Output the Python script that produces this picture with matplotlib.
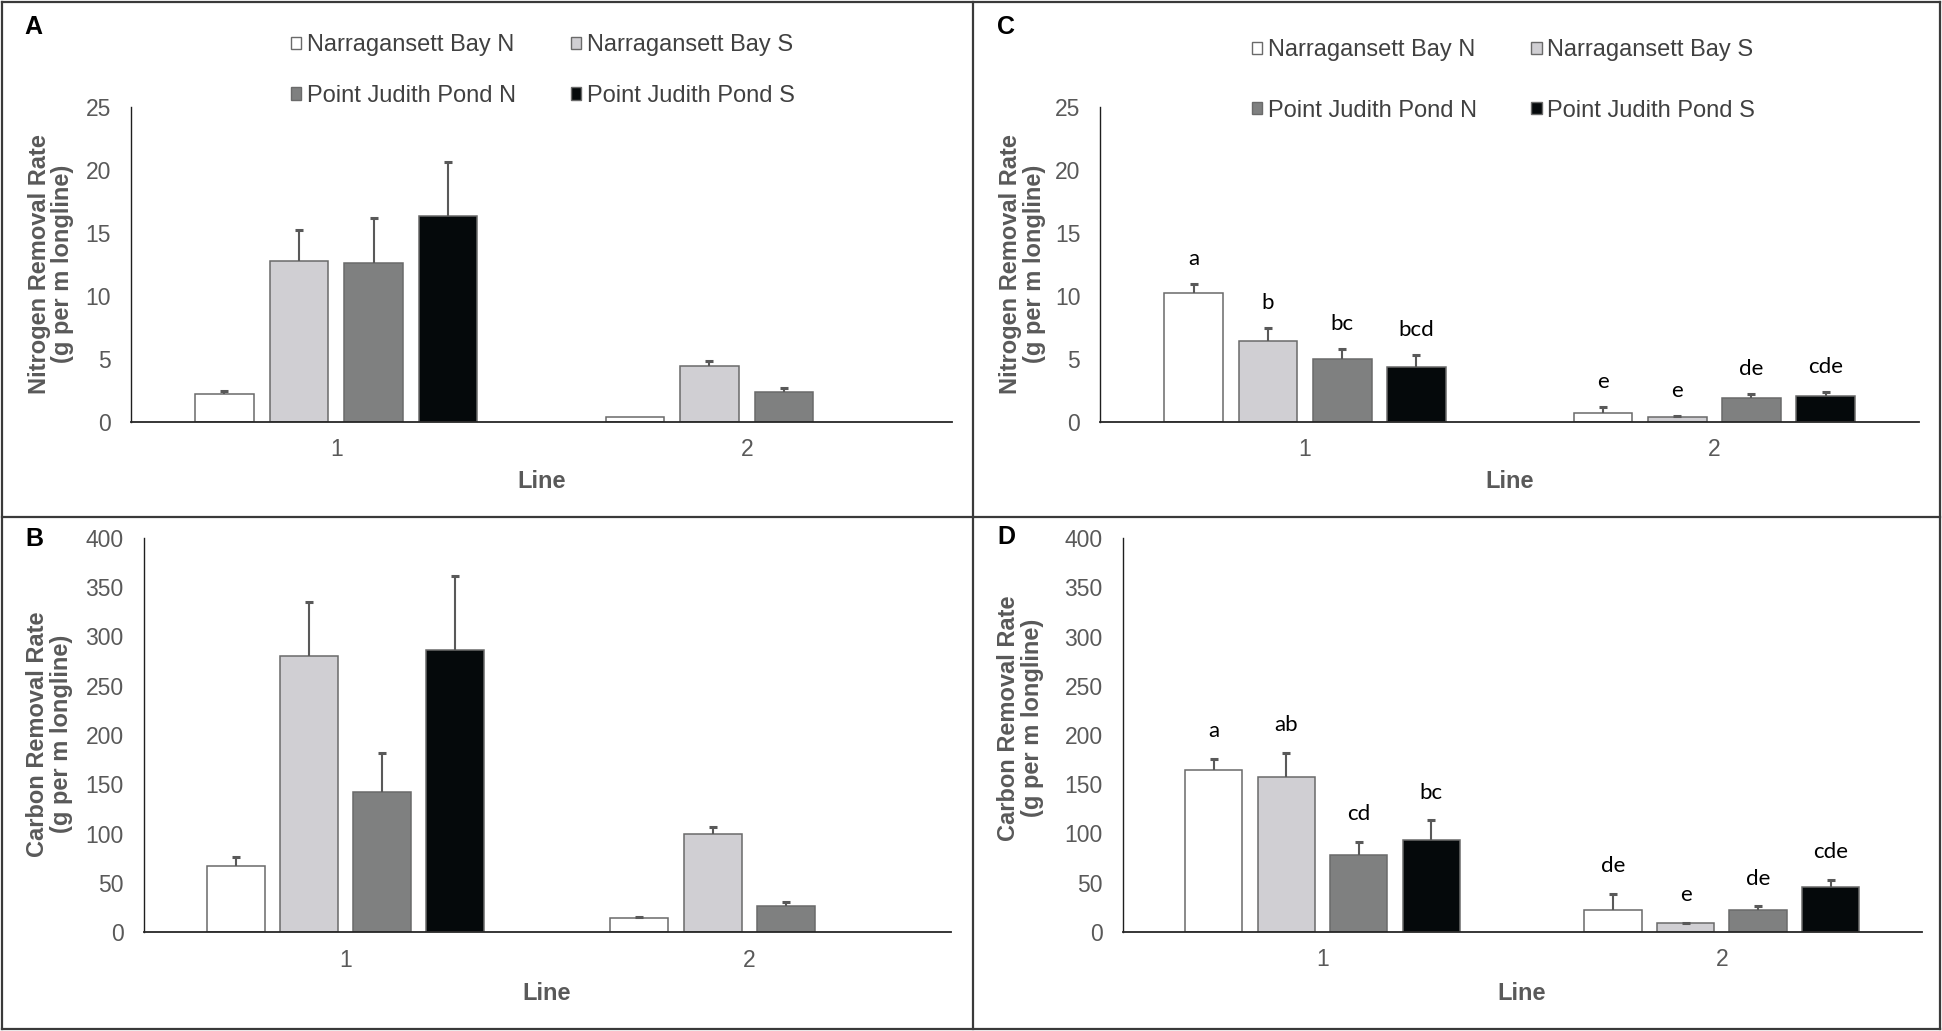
import numpy as np
import matplotlib
matplotlib.use("Agg")
import matplotlib.pyplot as plt
from matplotlib.patches import Patch
from matplotlib.lines import Line2D

# ---------------- data ----------------
lines = ["1", "2"]
series = ["Narragansett Bay N", "Narragansett Bay S", "Point Judith Pond N", "Point Judith Pond S"]

# Panel A: nitrogen (line 1 vs 2)
a_nbn = [2.17, 0.37];  a_nbn_err = [0.30, 0.0]
a_nbs = [12.8, 4.45];  a_nbs_err = [2.47, 0.35]
a_pjn = [12.65, 2.36]; a_pjn_err = [3.55, 0.34]
a_pjs = [16.33, np.nan]; a_pjs_err = [4.32, np.nan]

# Panel B: carbon
b_nbn = [67.6, 14.2];  b_nbn_err = [8.8, 1.7]
b_nbs = [279.7, 99.3]; b_nbs_err = [54.8, 7.5]
b_pjn = [141.9, 26.7]; b_pjn_err = [39.5, 4.4]
b_pjs = [286.5, np.nan]; b_pjs_err = [74.6, np.nan]

# Panel C: nitrogen
c_nbn = [10.24, 0.69]; c_nbn_err = [0.69, 0.48]
c_nbs = [6.39, 0.37];  c_nbs_err = [1.04, 0.08]
c_pjn = [4.99, 1.91];  c_pjn_err = [0.82, 0.29]
c_pjs = [4.38, 2.02];  c_pjs_err = [0.95, 0.34]
c_letters = [["a", "e"], ["b", "e"], ["bc", "de"], ["bcd", "cde"]]

# Panel D: carbon
d_nbn = [164.7, 21.7]; d_nbn_err = [10.9, 16.6]
d_nbs = [157.6, 8.5];  d_nbs_err = [24.4, 0.7]
d_pjn = [78.3, 22.4];  d_pjn_err = [12.9, 3.4]
d_pjs = [92.9, 45.4];  d_pjs_err = [20.3, 7.1]
d_letters = [["a", "de"], ["ab", "e"], ["cd", "de"], ["bc", "cde"]]

n_label = "Nitrogen Removal Rate\n(g per m longline)"
c_label = "Carbon Removal Rate\n(g per m longline)"

# ---------------- style ----------------
W, H = 1942, 1031
colors = ["#ffffff", "#d0cfd3", "#7f8080", "#05090b"]
edge = "#6a6a6a"
tick_col = "#595959"
plt.rcParams["font.family"] = ["Liberation Sans", "DejaVu Sans"]

fig = plt.figure(figsize=(W / 100, H / 100), dpi=100)


def rect(l, r, t, b):
    return [l / W, 1 - b / H, (r - l) / W, (b - t) / H]


def fx(x):
    return x / W


def fy(y):
    return 1 - y / H


def draw(ax, vals, errs, ymax, ystep, letters=None, let_off=18):
    cats = np.arange(1, len(lines) + 1)
    step, width = 0.1815, 0.1435
    for i, (v, e) in enumerate(zip(vals, errs)):
        v = np.asarray(v, float)
        e = np.asarray(e, float)
        x = cats + (i - 1.5) * step
        ok = ~np.isnan(v)
        ax.bar(x[ok], v[ok], width=width, color=colors[i], edgecolor=edge,
               linewidth=1.1, zorder=2)
        okk = ok & (e > 0)
        ax.vlines(x[okk], v[okk], v[okk] + e[okk], color="#595959", lw=1.5, zorder=3)
        ax.plot(x[okk], v[okk] + e[okk], ls="none", marker="_", ms=6, mew=2.2,
                color="#595959", zorder=3)
        if letters is not None:
            for xi, top, lab in zip(x, v + e, letters[i]):
                ax.annotate(lab, (xi, top), xytext=(0, let_off), textcoords="offset points",
                            ha="center", va="center", fontsize=16, color="black",
                            family=["Lato", "DejaVu Sans"])
    ax.set_xlim(0.5, len(lines) + 0.5)
    ax.set_ylim(0, ymax)
    ax.set_yticks(np.arange(0, ymax + 1e-9, ystep))
    ax.set_xticks(cats)
    ax.set_xticklabels(lines)
    for s in ["top", "right"]:
        ax.spines[s].set_visible(False)
    ax.spines["left"].set_color("#1f1f1f")
    ax.spines["left"].set_linewidth(1.0)
    ax.spines["bottom"].set_color("#262626")
    ax.spines["bottom"].set_linewidth(1.3)
    ax.tick_params(axis="both", length=0, labelsize=16.5, labelcolor=tick_col)
    ax.tick_params(axis="y", pad=14.5)
    ax.tick_params(axis="x", pad=12)
    ax.set_facecolor("none")


axA = fig.add_axes(rect(131, 952, 107.3, 421.7))
axC = fig.add_axes(rect(1100.4, 1919, 107.3, 421.7))
axB = fig.add_axes(rect(143.7, 951, 537.7, 932.3))
axD = fig.add_axes(rect(1122.7, 1921.6, 538.3, 931.7))

draw(axA, [a_nbn, a_nbs, a_pjn, a_pjs], [a_nbn_err, a_nbs_err, a_pjn_err, a_pjs_err], 25, 5)
draw(axB, [b_nbn, b_nbs, b_pjn, b_pjs], [b_nbn_err, b_nbs_err, b_pjn_err, b_pjs_err], 400, 50)
draw(axC, [c_nbn, c_nbs, c_pjn, c_pjs], [c_nbn_err, c_nbs_err, c_pjn_err, c_pjs_err], 25, 5,
     c_letters, let_off=18)
draw(axD, [d_nbn, d_nbs, d_pjn, d_pjs], [d_nbn_err, d_nbs_err, d_pjn_err, d_pjs_err], 400, 50,
     d_letters, let_off=20)

# legends (matplotlib fills column-first: reorder so rows read NB N, NB S / PJ N, PJ S)
handles = [Patch(facecolor=c, edgecolor=edge, linewidth=1.0) for c in colors]
order = [0, 2, 1, 3]
for ax, cx, cy, ls in [(axA, 542.8, 70.5, 1.2), (axC, 1503.4, 80.5, 1.62)]:
    fig.legend([handles[k] for k in order], [series[k] for k in order], loc="center",
               bbox_to_anchor=(fx(cx), fy(cy)),
               bbox_transform=fig.transFigure, ncol=2, frameon=False, fontsize=17,
               handlelength=0.44, handleheight=0.44, handletextpad=0.25,
               columnspacing=2.3, labelspacing=ls, labelcolor="#404040",
               borderpad=0, borderaxespad=0)

# axis labels
for x, y, lab in [(51, 264, n_label), (49.5, 734, c_label),
                  (1022.5, 264, n_label), (1020.5, 718, c_label)]:
    fig.text(fx(x), fy(y), lab, rotation=90, ha="center", va="center", fontsize=17,
             fontweight="bold", color=tick_col, linespacing=1.05, multialignment="center")
for x, y in [(541.6, 482), (546.6, 993.3), (1509.5, 481.7), (1522, 993.3)]:
    fig.text(fx(x), fy(y), "Line", ha="center", va="center", fontsize=17,
             fontweight="bold", color=tick_col)

# panel letters
for x, y, lab in [(33, 27, "A"), (34, 538.5, "B"), (1006, 27.5, "C"), (1006.7, 536.7, "D")]:
    fig.text(fx(x), fy(y), lab, ha="center", va="center", fontsize=18,
             fontweight="bold", color="black")

# panel borders
bc = "#3a3a3a"
for xs, ys in [([2, 1940], [2, 2]), ([2, 1940], [1029, 1029]), ([2, 2], [2, 1029]),
               ([1940, 1940], [2, 1029]), ([972.7, 972.7], [2, 1029]), ([2, 1940], [516.7, 516.7])]:
    fig.add_artist(Line2D([fx(v) for v in xs], [fy(v) for v in ys], color=bc, lw=1.6,
                          transform=fig.transFigure))

fig.savefig("out.png", dpi=100, facecolor="white")
